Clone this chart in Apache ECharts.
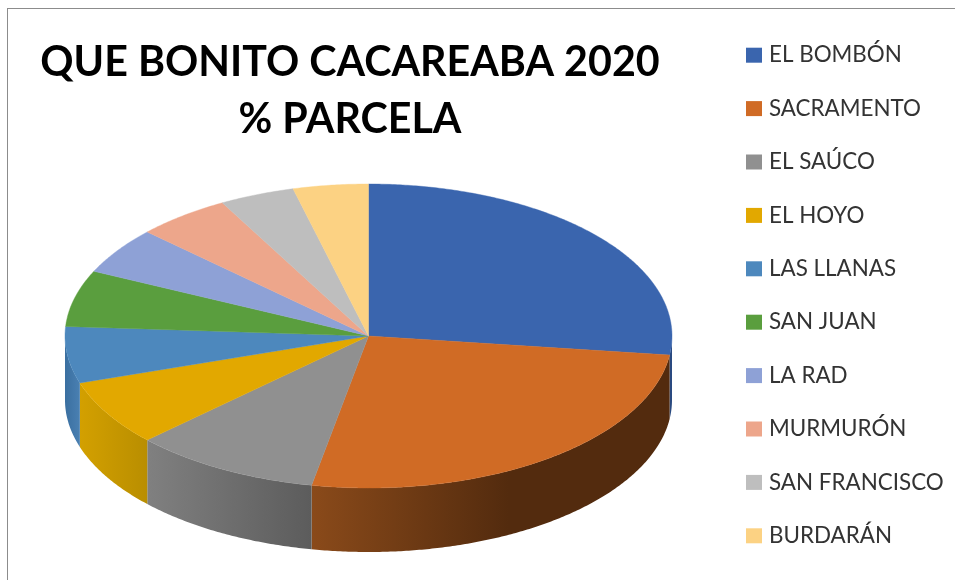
<!DOCTYPE html>
<html>
<head>
<meta charset="utf-8">
<style>html,body{margin:0;padding:0;background:#fff}#chart{width:955px;height:580px}</style>
<script src="https://cdn.jsdelivr.net/npm/echarts@6/dist/echarts.min.js"></script>
</head>
<body>
<div id="chart"></div>
<script>
// Share of parcels per community, in percent
const categories = ['EL BOMBÓN','SACRAMENTO','EL SAÚCO','EL HOYO','LAS LLANAS','SAN JUAN','LA RAD','MURMURÓN','SAN FRANCISCO','BURDARÁN'];
const shares = [27, 26, 10, 7, 6, 6, 5, 5, 4, 4];
const titleText = 'QUE BONITO CACAREABA 2020\n% PARCELA';

const topColors = ['#3a65ae','#d06b25','#909090','#e2a800','#4d88bd','#5a9e3e','#8ea1d6','#eda68b','#bebebe','#fcd283'];
// Rim shading: colour at the slice's left end and at its right end
const rimColors = [
  ['#2a4a80','#2a4a80'],['#8a4a1a','#532b0e'],['#808080','#5c5c5c'],['#d3a000','#b98e00'],
  ['#3a6fa0','#4a80b2'],['#3f7a2a','#3f7a2a'],['#6a7da8','#6a7da8'],['#b87a63','#b87a63'],
  ['#8f8f8f','#8f8f8f'],['#c09c60','#c09c60']
];

// Tilted-disc geometry
const cx = 368.5, cy = 336, rx = 303.5, ry = 152, depth = 64;
const rimEnd = 0.55; // fraction of a long slice after which the rim colour stays flat

const total = shares.reduce((a, b) => a + b, 0);
let running = 0;
const spans = shares.map(v => { const s = running; running += v; return [s / total * 360, running / total * 360]; });

function pt(deg, dy) {
  const t = deg * Math.PI / 180;
  return [cx + rx * Math.sin(t), cy - ry * Math.cos(t) + (dy || 0)];
}
function arc(a, b, dy) {
  const n = Math.max(2, Math.ceil(Math.abs(b - a) * 2));
  const out = [];
  for (let i = 0; i <= n; i++) out.push(pt(a + (b - a) * i / n, dy));
  return out;
}

// Front rim of the disc: only the part between 90° and 270° faces the viewer
function renderRim(params, api) {
  const i = params.dataIndex;
  const a = Math.max(api.value(0), 90), b = Math.min(api.value(1), 270);
  if (b <= a) return { type: 'group', children: [] };
  const points = arc(a, b, 0).concat(arc(b, a, depth));
  const xs = points.map(p => p[0]);
  const x0 = Math.min(...xs), x1 = Math.max(...xs);
  const [cl, cr] = rimColors[i];
  const fill = new echarts.graphic.LinearGradient(x0, 0, x1, 0, [
    { offset: 0, color: cl }, { offset: i === 1 ? rimEnd : 1, color: cr }, { offset: 1, color: cr }
  ], true);
  return { type: 'polygon', shape: { points }, style: { fill, stroke: null } };
}

function renderTop(idx) {
  return function (params, api) {
    const points = [[cx, cy]].concat(arc(api.value(0), api.value(1), 0));
    return { type: 'polygon', shape: { points }, style: { fill: topColors[idx], stroke: topColors[idx], lineWidth: 0.4 } };
  };
}

const rimSeries = {
  type: 'custom', name: 'rim', coordinateSystem: 'none', silent: true, z: 1,
  renderItem: renderRim, data: spans
};
const topSeries = categories.map((name, i) => ({
  type: 'custom', name, coordinateSystem: 'none', silent: true, z: 2,
  itemStyle: { color: topColors[i] },
  renderItem: renderTop(i), data: [spans[i]]
}));

const chart = echarts.init(document.getElementById('chart'), null, { renderer: 'canvas' });
chart.setOption({
  animation: false,
  backgroundColor: '#fff',
  title: {
    text: titleText, left: 345, top: 29, textAlign: 'center',
    textStyle: { fontFamily: 'Lato', fontWeight: 'bold', fontSize: 41.2, lineHeight: 57, color: '#000' }
  },
  legend: {
    data: categories, orient: 'vertical', left: 746, top: 42, padding: 0,
    icon: 'rect', itemWidth: 16, itemHeight: 15, itemGap: 27,
    textStyle: { fontFamily: 'Lato', fontSize: 22.4, color: '#333', lineHeight: 26.4, padding: [0, 0, 0, 2] },
    selectedMode: false
  },
  graphic: [
    { type: 'line', shape: { x1: 7.5, y1: 8, x2: 7.5, y2: 580 }, style: { stroke: '#8c8c8c', lineWidth: 1 } },
    { type: 'line', shape: { x1: 7, y1: 8.5, x2: 955, y2: 8.5 }, style: { stroke: '#8c8c8c', lineWidth: 1 } }
  ],
  series: [rimSeries].concat(topSeries)
});
</script>
</body>
</html>
